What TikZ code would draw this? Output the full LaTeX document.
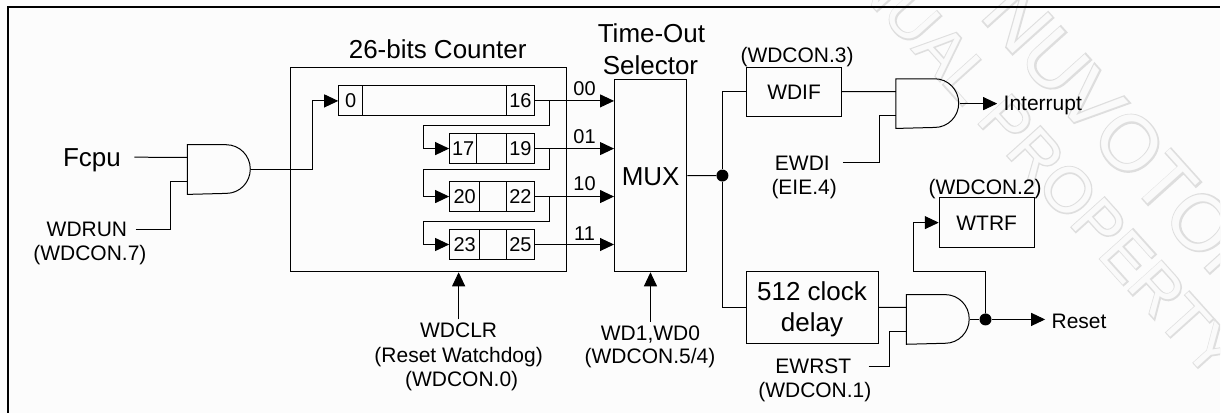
\documentclass[tikz,border=0pt]{standalone}
\usepackage{fontspec}
\setmainfont{Liberation Sans}
\newfontfamily\wmout[FakeBold=4]{Liberation Sans}
\usetikzlibrary{arrows.meta}
\newcommand{\andgate}[3]{
  \node[gatebox] (#1) at (#2,#3) {};
  \draw (#1.north west) -- ++(39pt,0) arc[start angle=90,end angle=-90,x radius=24pt,y radius=24.35pt] -- (#1.south west) -- cycle;
  \coordinate (#1in1) at ([yshift=12.1pt]#1.west);
  \coordinate (#1in2) at ([yshift=-12.1pt]#1.west);
}
\begin{document}
\begin{tikzpicture}[x=1pt,y=-1pt,line width=1pt,
  lab/.style={inner sep=0,font=\fontsize{21}{24}\selectfont,text height=15pt,text depth=0pt},
  big/.style={inner sep=0,font=\fontsize{26}{30}\selectfont,text height=19pt,text depth=0pt},
  num/.style={inner sep=0,font=\fontsize{20}{24}\selectfont,text height=14.3pt,text depth=0pt},
  box/.style={draw,inner sep=0},
  cell/.style={draw,inner sep=0,minimum height=30pt,font=\fontsize{20}{24}\selectfont},
  gatebox/.style={inner sep=0,minimum height=48.7pt,minimum width=63pt},
  dot/.style={circle,fill,inner sep=0,minimum size=12pt},
  arr/.style={-{Triangle[length=14pt,width=13pt]}},
  wmark/.style={inner sep=0,rotate=-48}]
\fill[white!99!black] (0,0) rectangle (1221,413);
\begin{scope}
\clip (0,0) rectangle (1221,413);
\node[wmark,text=black!13,font=\wmout\fontsize{78}{78}\selectfont] (wmtopo) at (1130,143) {NUVOTON};
\node[wmark,text=black!2,font=\fontsize{78}{78}\selectfont] (wmtop) at (1130,143) {NUVOTON};
\node[wmark,anchor=east,text=black!13,font=\wmout\fontsize{64}{64}\selectfont] (wmlowo) at (1228,367) {MANUAL PROPERTY};
\node[wmark,anchor=east,text=black!2,font=\fontsize{64}{64}\selectfont] (wmlow) at (1228,367) {MANUAL PROPERTY};
\end{scope}
\draw[line width=2pt] (8.3,413) -- (8.3,7.5) -- (1221,7.5);

% input side
\node[big] (fcpu) at (92,157.3) {Fcpu};
\node[lab] (wdrun) at (87,229.3) {WDRUN};
\node[lab] (wdcon7) at (90,253) {(WDCON.7)};
\andgate{g1}{219.5}{169.7}

% counter
\node[box,minimum width=276pt,minimum height=204pt] (counter) at (429,170) {};
\node[big] (ctitle) at (438,49.3) {26-bits Counter};
\foreach \n/\y/\lo/\hi/\xl/\xa/\xb in {0/101/0/16/339/363/507,1/148.7/17/19/450/477/507,2/196.7/20/22/450/480/507,3/244.7/23/25/450/480/507}{
  \node[cell,minimum width={\xa-\xl}] (r\n l) at ({(\xl+\xa)/2},\y) {\lo};
  \node[cell,minimum width={\xb-\xa}] (r\n m) at ({(\xa+\xb)/2},\y) {};
  \node[cell,minimum width=27.6pt] (r\n r) at (520.8,\y) {\hi};
}
\node[lab] (wdclr) at (459,330.7) {WDCLR};
\node[lab] (wdclr2) at (459,355) {(Reset Watchdog)};
\node[lab] (wdclr3) at (462,379) {(WDCON.0)};

% selector
\node[box,big,minimum width=72.4pt,minimum height=192.3pt] (mux) at (651.2,175.85) {MUX};
\node[big] (tout) at (652,32.7) {Time-Out};
\node[big] (tsel) at (651,65) {Selector};
\node[lab] (wdsel) at (651,333) {WD1,WD0};
\node[lab] (wdsel2) at (650.5,356) {(WDCON.5/4)};
\foreach \n/\t/\y in {0/00/88.7,1/01/136,2/10/184,3/11/234}
  \node[num] (t\n) at (585,\y) {\t};
\node[dot] (d1) at (723,175.7) {};

% outputs
\node[box,lab,minimum width=94.5pt,minimum height=49pt] (wdif) at (794.7,91.8) {WDIF};
\node[lab] (wdcon3) at (797.7,55) {(WDCON.3)};
\andgate{g2}{928.5}{103.7}
\node[lab] (ewdi) at (803,162.7) {EWDI};
\node[lab] (eie4) at (804.8,187) {(EIE.4)};
\node[lab,anchor=west] (interrupt) at (1004,103) {Interrupt};
\node[box,lab,minimum width=95pt,minimum height=49.7pt] (wtrf) at (987.5,222.8) {WTRF};
\node[lab] (wdcon2) at (986,187) {(WDCON.2)};
\node[box,minimum width=131.8pt,minimum height=72pt] (delay) at (812.9,307.7) {};
\node[big] (delay1) at (812.7,291) {512 clock};
\node[big] (delay2) at (812.7,322.7) {delay};
\andgate{g3}{939}{319.7}
\node[lab] (ewrst) at (814,366.7) {EWRST};
\node[lab] (wdcon1) at (815.5,390.7) {(WDCON.1)};
\node[dot] (d2) at (986.3,319.7) {};
\node[lab,anchor=west] (reset) at (1052,321) {Reset};

% connectors
\draw ([xshift=13pt]fcpu.east) -- (g1in1);
\draw ([xshift=8pt]wdrun.east) -| ([xshift=-17pt]g1in2) -- (g1in2);
\draw[arr] (g1.east) -| ([xshift=-26pt]r0l.west) -- (r0l.west);
\foreach \n in {0,1,2,3}
  \draw[arr] (r\n r.east) -- (mux.west |- r\n r.east);
\foreach \a/\b/\y in {0/1/125.7,1/2/169.7,2/3/221.7}
  \draw[arr] ([xshift=14.4pt]r\a r.east) |- (423.5,\y) |- (r\b l.west);
\draw[arr] ([yshift=3pt]wdclr.north) -- (wdclr.north |- counter.south);
\draw[arr] ([yshift=3pt]wdsel.north) -- (wdsel.north |- mux.south);
\draw (mux.east) -- (d1);
\draw (d1) |- (wdif.west);
\draw (d1) |- (delay.west);
\draw (wdif.east) -- (g2in1);
\draw ([xshift=12.6pt]ewdi.east) -| ([xshift=-16.7pt]g2in2) -- (g2in2);
\draw[arr] (g2.east) -- ([xshift=-6pt]g2.east -| interrupt.west);
\draw (delay.east) -- (g3in1);
\draw ([xshift=17pt]ewrst.east) -| ([xshift=-16.6pt]g3in2) -- (g3in2);
\draw (g3.east) -- (d2);
\draw[arr] (d2) -- ([xshift=-6pt]d2 -| reset.west);
\draw[arr] (d2) |- (914.7,271.7) |- (wtrf.west);
\end{tikzpicture}
\end{document}
